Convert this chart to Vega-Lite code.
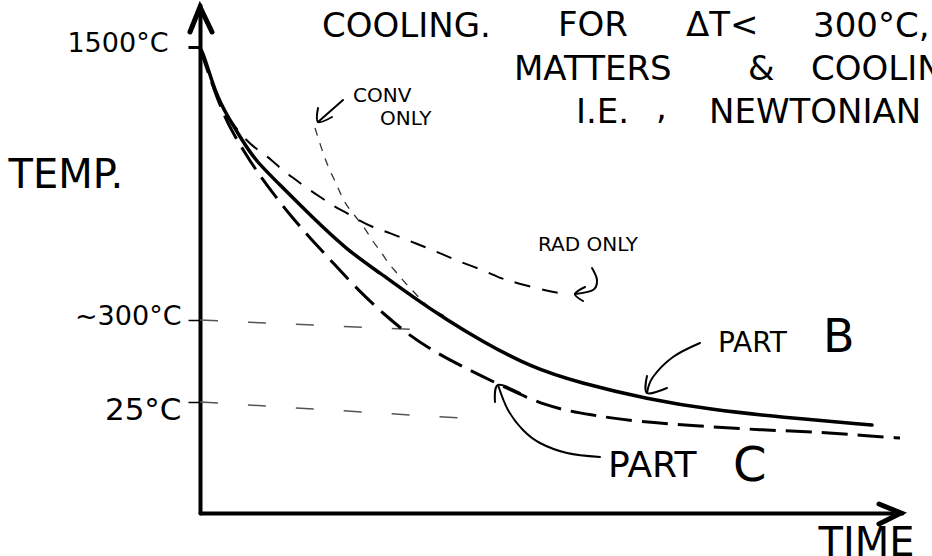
{
  "$schema": "https://vega.github.io/schema/vega-lite/v6.json",
  "width": 702,
  "height": 508,
  "autosize": "none",
  "padding": {"left": 200, "top": 5, "right": 30, "bottom": 43},
  "background": "white",
  "config": {"view": {"stroke": null}},
  "datasets": {
    "curves": [
      {"series": "B", "x": 0, "y": 465}, {"series": "B", "x": 3, "y": 460}, {"series": "B", "x": 9, "y": 441}, {"series": "B", "x": 15, "y": 423}, {"series": "B", "x": 21, "y": 409}, {"series": "B", "x": 28, "y": 396}, {"series": "B", "x": 42, "y": 373}, {"series": "B", "x": 55, "y": 353}, {"series": "B", "x": 78, "y": 330}, {"series": "B", "x": 112, "y": 296}, {"series": "B", "x": 147, "y": 263}, {"series": "B", "x": 180, "y": 240}, {"series": "B", "x": 213, "y": 216}, {"series": "B", "x": 247, "y": 193}, {"series": "B", "x": 280, "y": 173}, {"series": "B", "x": 330, "y": 146}, {"series": "B", "x": 380, "y": 130}, {"series": "B", "x": 447, "y": 114}, {"series": "B", "x": 513, "y": 103}, {"series": "B", "x": 580, "y": 96}, {"series": "B", "x": 672, "y": 88},
      {"series": "C", "x": 0, "y": 465}, {"series": "C", "x": 8, "y": 441}, {"series": "C", "x": 15, "y": 421}, {"series": "C", "x": 22, "y": 403}, {"series": "C", "x": 30, "y": 385}, {"series": "C", "x": 45, "y": 360}, {"series": "C", "x": 58, "y": 340}, {"series": "C", "x": 72, "y": 321}, {"series": "C", "x": 90, "y": 298}, {"series": "C", "x": 110, "y": 275}, {"series": "C", "x": 135, "y": 248}, {"series": "C", "x": 162, "y": 219}, {"series": "C", "x": 185, "y": 198}, {"series": "C", "x": 210, "y": 177}, {"series": "C", "x": 235, "y": 161}, {"series": "C", "x": 265, "y": 145}, {"series": "C", "x": 300, "y": 128}, {"series": "C", "x": 347, "y": 106}, {"series": "C", "x": 390, "y": 98}, {"series": "C", "x": 440, "y": 91}, {"series": "C", "x": 500, "y": 87}, {"series": "C", "x": 560, "y": 83}, {"series": "C", "x": 620, "y": 81}, {"series": "C", "x": 670, "y": 77}, {"series": "C", "x": 700, "y": 75},
      {"series": "RAD", "x": 28, "y": 396}, {"series": "RAD", "x": 45, "y": 373}, {"series": "RAD", "x": 58, "y": 363}, {"series": "RAD", "x": 72, "y": 353}, {"series": "RAD", "x": 83, "y": 342}, {"series": "RAD", "x": 95, "y": 334}, {"series": "RAD", "x": 105, "y": 326}, {"series": "RAD", "x": 122, "y": 315}, {"series": "RAD", "x": 133, "y": 307}, {"series": "RAD", "x": 147, "y": 300}, {"series": "RAD", "x": 160, "y": 292}, {"series": "RAD", "x": 172, "y": 286}, {"series": "RAD", "x": 190, "y": 280}, {"series": "RAD", "x": 207, "y": 273}, {"series": "RAD", "x": 225, "y": 266}, {"series": "RAD", "x": 242, "y": 259}, {"series": "RAD", "x": 260, "y": 251}, {"series": "RAD", "x": 283, "y": 243}, {"series": "RAD", "x": 302, "y": 234}, {"series": "RAD", "x": 317, "y": 230}, {"series": "RAD", "x": 347, "y": 222}, {"series": "RAD", "x": 360, "y": 220},
      {"series": "CONV", "x": 115, "y": 385}, {"series": "CONV", "x": 122, "y": 363}, {"series": "CONV", "x": 128, "y": 346}, {"series": "CONV", "x": 137, "y": 328}, {"series": "CONV", "x": 143, "y": 313}, {"series": "CONV", "x": 150, "y": 303}, {"series": "CONV", "x": 165, "y": 285}, {"series": "CONV", "x": 173, "y": 271}, {"series": "CONV", "x": 182, "y": 260}, {"series": "CONV", "x": 188, "y": 250}, {"series": "CONV", "x": 197, "y": 240}, {"series": "CONV", "x": 205, "y": 230}, {"series": "CONV", "x": 217, "y": 218}, {"series": "CONV", "x": 227, "y": 206}, {"series": "CONV", "x": 247, "y": 196}
    ],
    "guides": [
      {"seg": "g300", "x": 0, "y": 193}, {"seg": "g300", "x": 225, "y": 183},
      {"seg": "g25", "x": 0, "y": 111}, {"seg": "g25", "x": 260, "y": 95}
    ],
    "arrows": [
      {"seg": "conv", "x": 143, "y": 413}, {"seg": "conv", "x": 118, "y": 391},
      {"seg": "conv1", "x": 118, "y": 405}, {"seg": "conv1", "x": 118, "y": 391}, {"seg": "conv1", "x": 132, "y": 396},
      {"seg": "rad", "x": 392, "y": 245}, {"seg": "rad", "x": 397, "y": 233}, {"seg": "rad", "x": 393, "y": 223}, {"seg": "rad", "x": 375, "y": 219},
      {"seg": "rad1", "x": 385, "y": 226}, {"seg": "rad1", "x": 375, "y": 219}, {"seg": "rad1", "x": 383, "y": 212},
      {"seg": "pb", "x": 500, "y": 170}, {"seg": "pb", "x": 473, "y": 156}, {"seg": "pb", "x": 453, "y": 136}, {"seg": "pb", "x": 447, "y": 120},
      {"seg": "pb1", "x": 447, "y": 137}, {"seg": "pb1", "x": 447, "y": 120}, {"seg": "pb1", "x": 467, "y": 125},
      {"seg": "pc", "x": 400, "y": 56}, {"seg": "pc", "x": 367, "y": 60}, {"seg": "pc", "x": 340, "y": 70}, {"seg": "pc", "x": 323, "y": 83}, {"seg": "pc", "x": 308, "y": 103}, {"seg": "pc", "x": 298, "y": 128},
      {"seg": "pc1", "x": 295, "y": 111}, {"seg": "pc1", "x": 298, "y": 128}, {"seg": "pc1", "x": 320, "y": 120}
    ],
    "axisarrows": [
      {"seg": "ya", "x": -10, "y": 481}, {"seg": "ya", "x": 0, "y": 506}, {"seg": "ya", "x": 12, "y": 481},
      {"seg": "xa", "x": 679, "y": 9}, {"seg": "xa", "x": 701, "y": 0}, {"seg": "xa", "x": 679, "y": -11}
    ],
    "notes": [
      {"text": "COOLING.", "x": 122, "y": 486, "role": "note"},
      {"text": "FOR", "x": 358, "y": 487, "role": "note"},
      {"text": "ΔT<", "x": 486, "y": 487, "role": "note"},
      {"text": "300°C,", "x": 613, "y": 486, "role": "note"},
      {"text": "MATTERS", "x": 314, "y": 443, "role": "note"},
      {"text": "&", "x": 548, "y": 443, "role": "note"},
      {"text": "COOLING", "x": 611, "y": 443, "role": "note"},
      {"text": "I.E.", "x": 376, "y": 400, "role": "note"},
      {"text": ",", "x": 456, "y": 404, "role": "note"},
      {"text": "NEWTONIAN", "x": 509, "y": 400, "role": "note"},
      {"text": "CONV", "x": 153, "y": 417, "role": "small"},
      {"text": "ONLY", "x": 180, "y": 394, "role": "small"},
      {"text": "RAD ONLY", "x": 338, "y": 268, "role": "small"},
      {"text": "PART", "x": 518, "y": 169, "role": "partB"},
      {"text": "B", "x": 623, "y": 175, "role": "bigB"},
      {"text": "PART", "x": 408, "y": 47, "role": "partC"},
      {"text": "C", "x": 533, "y": 46, "role": "bigC"}
    ]
  },
  "encoding": {
    "x": {
      "field": "x", "type": "quantitative",
      "scale": {"domain": [0, 702], "nice": false, "zero": false},
      "axis": {
        "ticks": false, "labels": false, "grid": false,
        "domainColor": "black", "domainWidth": 4, "domainCap": "round",
        "title": "TIME", "titleX": 618, "titleY": 42, "titleAlign": "left", "titleBaseline": "alphabetic",
        "titleFont": "DejaVu Sans", "titleFontSize": 40, "titleFontWeight": "normal", "titleColor": "black"
      }
    },
    "y": {
      "field": "y", "type": "quantitative",
      "scale": {"domain": [0, 508], "nice": false, "zero": false},
      "axis": {
        "values": [466, 193, 111],
        "labelExpr": "datum.value == 466 ? '1500°C' : datum.value == 193 ? '~300°C' : '25°C'",
        "grid": false,
        "domainColor": "black", "domainWidth": 4, "domainCap": "round",
        "tickColor": "black", "tickSize": 12,
        "tickWidth": {"condition": {"test": "datum.value === 466", "value": 3}, "value": 1.5},
        "labelPadding": {"condition": {"test": "datum.value === 466", "value": 20}, "value": 7},
        "labelOffset": {"condition": {"test": "datum.value === 111", "value": 8}, "value": -4},
        "labelFontSize": {"condition": {"test": "datum.value === 111", "value": 31}, "value": 27},
        "labelFont": "DejaVu Sans", "labelColor": "black",
        "title": "TEMP.", "titleAngle": 0, "titleAlign": "left", "titleBaseline": "middle",
        "titleX": -192, "titleY": 170,
        "titleFont": "DejaVu Sans", "titleFontSize": 40, "titleFontWeight": "normal", "titleColor": "black"
      }
    }
  },
  "layer": [
    {
      "data": {"name": "guides"},
      "mark": {"type": "line", "color": "#555", "strokeWidth": 1.5, "strokeDash": [18, 30]},
      "encoding": {"detail": {"field": "seg"}}
    },
    {
      "data": {"name": "curves"},
      "transform": [{"filter": "datum.series == 'CONV'"}],
      "mark": {"type": "line", "interpolate": "basis", "color": "#333", "strokeWidth": 1.3, "strokeDash": [8, 8]},
      "encoding": {"order": {"value": null}}
    },
    {
      "data": {"name": "curves"},
      "transform": [{"filter": "datum.series == 'RAD'"}],
      "mark": {"type": "line", "interpolate": "basis", "color": "black", "strokeWidth": 2, "strokeDash": [16, 12]},
      "encoding": {"order": {"value": null}}
    },
    {
      "data": {"name": "curves"},
      "transform": [{"filter": "datum.series == 'C'"}],
      "mark": {"type": "line", "interpolate": "basis", "color": "black", "strokeWidth": 3, "strokeDash": [26, 10]},
      "encoding": {"order": {"value": null}}
    },
    {
      "data": {"name": "curves"},
      "transform": [{"filter": "datum.series == 'B'"}],
      "mark": {"type": "line", "interpolate": "basis", "color": "black", "strokeWidth": 3.5, "strokeCap": "round"},
      "encoding": {"order": {"value": null}}
    },
    {
      "data": {"name": "arrows"},
      "mark": {"type": "line", "interpolate": "cardinal", "color": "black", "strokeWidth": 2, "strokeCap": "round", "strokeJoin": "round"},
      "encoding": {"detail": {"field": "seg"}, "order": {"value": null}}
    },
    {
      "data": {"name": "axisarrows"},
      "mark": {"type": "line", "color": "black", "strokeWidth": 5, "strokeCap": "round", "strokeJoin": "miter"},
      "encoding": {"detail": {"field": "seg"}, "order": {"value": null}}
    },
    {
      "data": {"name": "notes"},
      "mark": {"type": "text", "align": "left", "baseline": "middle", "font": "DejaVu Sans", "color": "black"},
      "encoding": {
        "text": {"field": "text"},
        "size": {
          "field": "role", "type": "nominal", "legend": null,
          "scale": {"type": "ordinal", "domain": ["note", "small", "partB", "bigB", "partC", "bigC"], "range": [34, 20, 28, 46, 36, 48]}
        }
      }
    }
  ]
}
